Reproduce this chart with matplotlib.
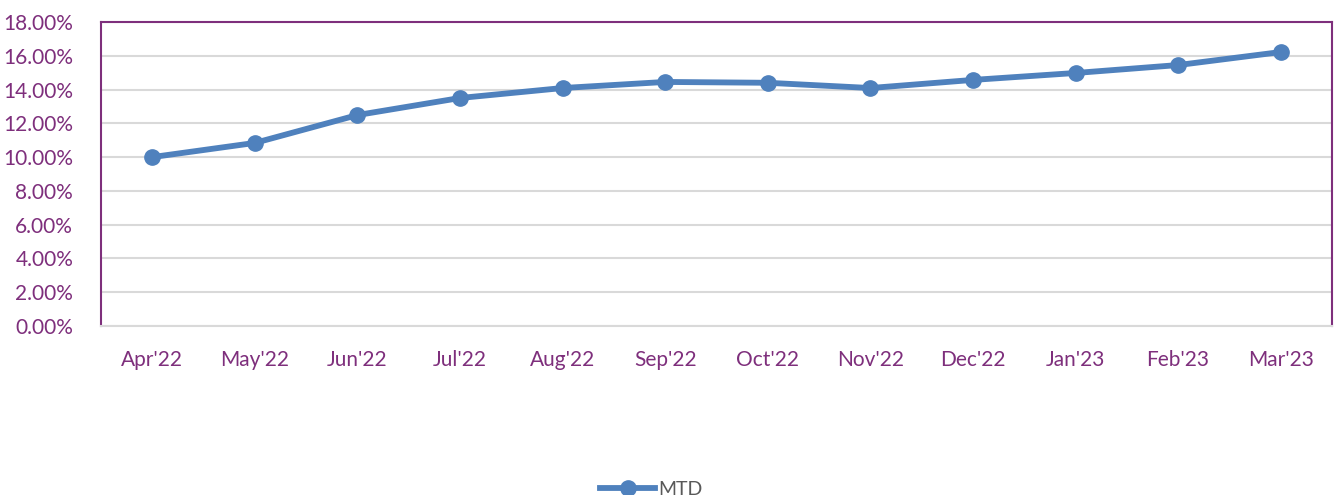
import matplotlib
matplotlib.use("Agg")
import matplotlib.pyplot as plt
from matplotlib.ticker import FuncFormatter

months = ["Apr'22", "May'22", "Jun'22", "Jul'22", "Aug'22", "Sep'22",
          "Oct'22", "Nov'22", "Dec'22", "Jan'23", "Feb'23", "Mar'23"]
mtd = [10.00, 10.84, 12.49, 13.50, 14.09, 14.45, 14.40, 14.09, 14.57, 14.98, 15.45, 16.22]
yticks = [0, 2, 4, 6, 8, 10, 12, 14, 16, 18]

purple = "#7E2F7C"
blue = "#4F81BD"

plt.rcParams["font.family"] = ["Lato", "DejaVu Sans"]

fig = plt.figure(figsize=(13.38, 4.95), dpi=100)
ax = fig.add_axes([0.0755, 0.3414, 0.92, 0.6142])

x = list(range(len(months)))
ax.plot(x, mtd, color=blue, linewidth=4.2, marker="o", markersize=11,
        label="MTD", zorder=3)

ax.set_xlim(-0.5, len(months) - 0.5)
ax.set_ylim(0, 18)
ax.set_yticks(yticks)
ax.yaxis.set_major_formatter(FuncFormatter(lambda v, p: f"{v:.2f}%"))
ax.set_xticks(x)
ax.set_xticklabels(months)
ax.grid(axis="y", color="#D9D9D9", linewidth=1.5, zorder=0)
ax.set_axisbelow(True)

for side in ["left", "top", "right"]:
    ax.spines[side].set_color(purple)
    ax.spines[side].set_linewidth(1.5)
ax.spines["bottom"].set_color("#D9D9D9")
ax.spines["bottom"].set_linewidth(1.5)

ax.tick_params(axis="both", length=0, labelsize=15, labelcolor=purple)
ax.tick_params(axis="x", pad=17)
ax.tick_params(axis="y", pad=20)

fig.legend(loc="center", bbox_to_anchor=(0.487, 0.012), frameon=False,
           fontsize=14, labelcolor="#595959", handlelength=2.8,
           handletextpad=0.2)

fig.savefig("out.png", dpi=100)
